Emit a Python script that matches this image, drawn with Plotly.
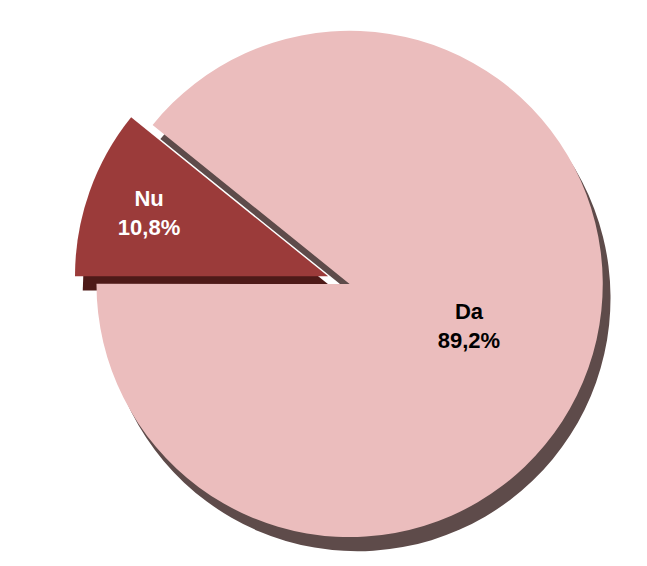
import plotly.graph_objects as go

labels = ["Da", "Nu"]
values = [89.2, 10.8]
colors = ["#EBBDBD", "#9B3B3A"]
shadow_colors = ["#5E4B4A", "#4E1A18"]
text_colors = ["#000000", "#FFFFFF"]
pulls = [0, 0.09]

fig = go.Figure()

# depth/shadow layer
fig.add_trace(go.Pie(
    labels=labels, values=values, sort=False, direction="clockwise",
    rotation=-51.1, pull=pulls,
    marker=dict(colors=shadow_colors, line=dict(width=0)),
    textinfo="none", hoverinfo="skip", showlegend=False,
    domain=dict(x=[0.105, 0.975], y=[0.0, 0.975]),
))

fig.add_trace(go.Pie(
    labels=labels, values=values, sort=False, direction="clockwise",
    rotation=-51.1, pull=pulls,
    marker=dict(colors=colors, line=dict(width=0)),
    texttemplate="<b>%{label}<br>%{value:.1f}%</b>",
    textposition="inside", insidetextorientation="horizontal",
    textfont=dict(family="Liberation Sans, Arial, sans-serif", size=22, color=text_colors),
    showlegend=False,
    domain=dict(x=[0.093, 0.963], y=[0.025, 1.0]),
))

fig.update_layout(
    width=647, height=566,
    margin=dict(l=0, r=0, t=0, b=0),
    paper_bgcolor="white", plot_bgcolor="white",
    separators=",.",
)

fig.write_html("out.html")
